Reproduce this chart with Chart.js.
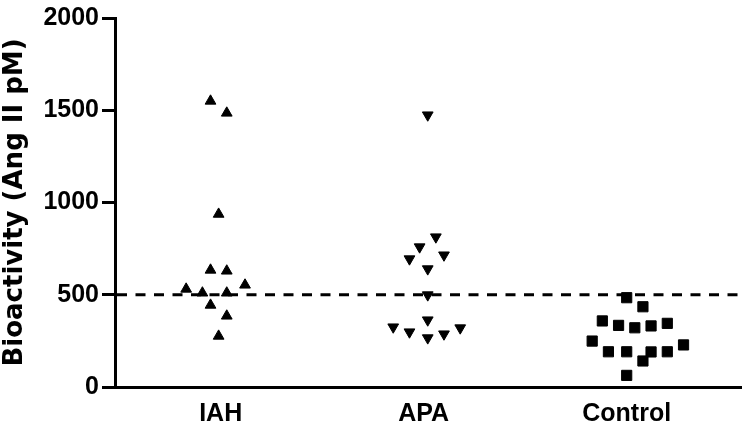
<!DOCTYPE html>
<html>
<head>
<meta charset="utf-8">
<script src="https://cdn.jsdelivr.net/npm/chart.js@4/dist/chart.umd.min.js"></script>
<style>
  html, body { margin: 0; padding: 0; background: #fff; }
  #wrap { width: 750px; height: 431px; }
</style>
</head>
<body>
<div id="wrap"><canvas id="bioChart" width="750" height="431"></canvas></div>
<script>
// groups on the x axis
const groups = ["IAH", "APA", "Control"];

// Bioactivity (Ang II pM), with the horizontal scatter offset of each point
const iahValues = [1550, 1485, 937, 634, 629, 531, 510, 510, 553, 444, 385, 276];
const iahJitter = [-0.05, 0.03, -0.01, -0.05, 0.03, -0.17, -0.09, 0.03, 0.12, -0.05, 0.03, -0.01];

const apaValues = [1474, 813, 759, 694, 715, 640, 499, 363, 325, 298, 266, 287, 320];
const apaJitter = [0.02, 0.06, -0.02, -0.07, 0.10, 0.02, 0.02, 0.02, -0.15, -0.07, 0.02, 0.10, 0.18];

const controlValues = [484, 435, 358, 334, 321, 331, 345, 249, 191, 191, 190, 141, 191, 228, 63];
const controlJitter = [0, 0.08, -0.12, -0.04, 0.04, 0.12, 0.2, -0.17, -0.09, 0, 0.12, 0.08, 0.2, 0.28, 0];

const yTicks = [0, 500, 1000, 1500, 2000];
const cutoff = 500;

function toPoints(groupIndex, values, jitter) {
    return values.map((v, i) => ({ x: groupIndex + 1 + jitter[i], y: v }));
}

// dashed cut-off line across the plot
const cutoffLine = {
    id: "cutoffLine",
    beforeDatasetsDraw(chart) {
        const { ctx, chartArea, scales } = chart;
        const y = scales.y.getPixelForValue(cutoff);
        ctx.save();
        ctx.strokeStyle = "#000";
        ctx.lineWidth = 3;
        ctx.setLineDash([10, 8.5]);
        ctx.beginPath();
        ctx.moveTo(chartArea.left + 2, y);
        ctx.lineTo(chartArea.right, y);
        ctx.stroke();
        ctx.restore();
    }
};

const tickFont = { family: "'Liberation Sans', Arial, sans-serif", size: 25, weight: "bold" };

const ctx = document.getElementById("bioChart").getContext("2d");
new Chart(ctx, {
    type: "scatter",
    data: {
        datasets: [
            {
                label: groups[0],
                data: toPoints(0, iahValues, iahJitter),
                pointStyle: "triangle",
                pointRadius: 6.2,
                backgroundColor: "#000",
                borderColor: "#000",
                borderWidth: 1
            },
            {
                label: groups[1],
                data: toPoints(1, apaValues, apaJitter),
                pointStyle: "triangle",
                rotation: 180,
                pointRadius: 6.2,
                backgroundColor: "#000",
                borderColor: "#000",
                borderWidth: 1
            },
            {
                label: groups[2],
                data: toPoints(2, controlValues, controlJitter),
                pointStyle: "rect",
                pointRadius: 7.2,
                backgroundColor: "#000",
                borderColor: "#000",
                borderWidth: 1
            }
        ]
    },
    options: {
        responsive: false,
        animation: false,
        layout: { padding: { top: 17, right: 2, left: 0, bottom: 0 } },
        plugins: {
            legend: { display: false },
            tooltip: { enabled: false }
        },
        scales: {
            x: {
                type: "linear",
                min: 0.4795,
                max: 3.567,
                afterBuildTicks: (scale) => {
                    scale.ticks = groups.map((g, i) => ({ value: i + 1 }));
                },
                afterFit: (scale) => { scale.height = 44; },
                grid: { display: false, drawTicks: false },
                border: { display: true, color: "#000", width: 3 },
                ticks: {
                    color: "#000",
                    font: tickFont,
                    padding: 12,
                    autoSkip: false,
                    maxRotation: 0,
                    callback: (value, index) => groups[index]
                }
            },
            y: {
                min: 0,
                max: 2000,
                afterBuildTicks: (scale) => {
                    scale.ticks = yTicks.map(v => ({ value: v }));
                },
                afterFit: (scale) => { scale.width = 115; },
                grid: {
                    drawOnChartArea: false,
                    drawTicks: true,
                    tickLength: 13,
                    tickWidth: 3,
                    tickColor: "#000"
                },
                border: { display: true, color: "#000", width: 3 },
                ticks: {
                    color: "#000",
                    font: tickFont,
                    padding: 3,
                    callback: (value) => String(value)
                },
                title: {
                    display: true,
                    text: "Bioactivity (Ang II pM)",
                    color: "#000",
                    font: { family: "'DejaVu Sans', sans-serif", size: 26, weight: "bold" },
                    padding: { top: 0, bottom: 2 }
                }
            }
        }
    },
    plugins: [cutoffLine]
});
</script>
</body>
</html>
